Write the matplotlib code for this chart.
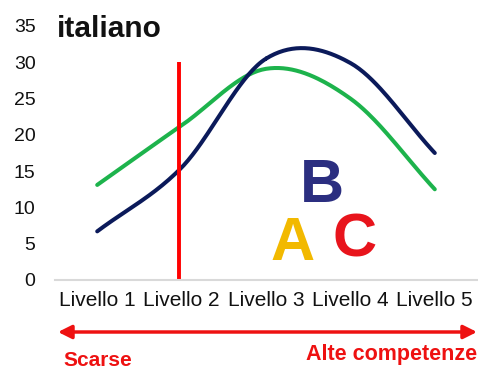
import numpy as np
import matplotlib
matplotlib.use("Agg")
import matplotlib.pyplot as plt
from matplotlib.patches import FancyArrowPatch

plt.rcParams['font.family'] = ['Liberation Sans', 'DejaVu Sans']

livelli = ["Livello 1", "Livello 2", "Livello 3", "Livello 4", "Livello 5"]
serie_blu = [6.7, 15.5, 30.5, 29.9, 17.5]
serie_verde = [13.1, 21.3, 29.1, 25.0, 12.5]
soglia_x = 1.97
soglia_top = 30
y_ticks = [0, 5, 10, 15, 20, 25, 30, 35]


def smooth(x, y, n=40):
    # curva tipo Catmull-Rom (come "linea smussata" di Excel)
    x = np.asarray(x, float)
    y = np.asarray(y, float)
    px = np.concatenate([[2 * x[0] - x[1]], x, [2 * x[-1] - x[-2]]])
    py = np.concatenate([[2 * y[0] - y[1]], y, [2 * y[-1] - y[-2]]])
    t = np.linspace(0, 1, n)
    xs, ys = [], []
    for i in range(1, len(px) - 2):
        for p, out in ((px, xs), (py, ys)):
            p0, p1, p2, p3 = p[i - 1:i + 3]
            out.append(0.5 * (2 * p1 + (-p0 + p2) * t
                              + (2 * p0 - 5 * p1 + 4 * p2 - p3) * t ** 2
                              + (-p0 + 3 * p1 - 3 * p2 + p3) * t ** 3))
    return np.concatenate(xs), np.concatenate(ys)


fig = plt.figure(figsize=(4.78, 3.71), dpi=100)
ax = fig.add_axes([55 / 478, 91 / 371, 422 / 478, 254 / 371])

x = np.arange(1, len(livelli) + 1)
bx, by = smooth(x, serie_blu)
gx, gy = smooth(x, serie_verde)
ax.plot(gx, gy, color='#1db34c', lw=2.9, solid_capstyle='round')
ax.plot(bx, by, color='#0b1a5a', lw=2.9, solid_capstyle='round')
ax.plot([soglia_x, soglia_x], [0, soglia_top], color='#ff0000', lw=2.8, solid_capstyle='butt')

ax.set_xlim(0.5, 5.5)
ax.set_ylim(0, 35)
ax.set_xticks(x)
ax.set_xticklabels(livelli, fontsize=15)
ax.set_yticks(y_ticks)
ax.tick_params(axis='both', length=0, labelcolor='#111111')
ax.tick_params(axis='y', pad=14, labelsize=14)
ax.tick_params(axis='x', pad=8)
for s in ['top', 'right', 'left']:
    ax.spines[s].set_visible(False)
ax.spines['bottom'].set_color('#d9d9d9')
ax.spines['bottom'].set_linewidth(1.5)

# lettere A B C
ax.text(3.66, 10.7, "B", fontsize=44, fontweight='bold', color='#2b2e80', ha='center', va='baseline')
ax.text(3.32, 2.75, "A", fontsize=44, fontweight='bold', color='#f2b900', ha='center', va='baseline')
ax.text(4.05, 3.2, "C", fontsize=44, fontweight='bold', color='#e8141c', ha='center', va='baseline')

fig.text(57 / 478, 1 - 37 / 371, "italiano", fontsize=21.5, fontweight='bold', color='#111111', va='baseline')

freccia = FancyArrowPatch((58 / 478, 1 - 332 / 371), (477 / 478, 1 - 332 / 371),
                          transform=fig.transFigure, arrowstyle='<|-|>,head_length=8,head_width=4',
                          color='#ee1111', lw=2.5, shrinkA=0, shrinkB=0)
fig.add_artist(freccia)

fig.text(63 / 478, 1 - 366 / 371, "Scarse", fontsize=15, fontweight='bold', color='#ee1111', va='baseline')
fig.text(477 / 478, 1 - 360 / 371, "Alte competenze", fontsize=15.5, fontweight='bold', color='#ee1111',
         ha='right', va='baseline')

fig.savefig("out.png", dpi=100)
